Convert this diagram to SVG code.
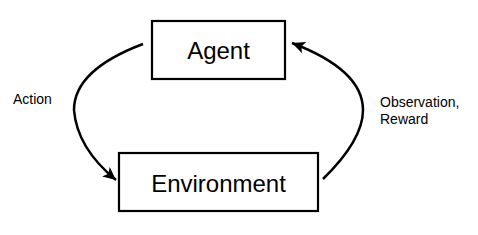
<svg xmlns="http://www.w3.org/2000/svg" width="478" height="235" viewBox="0 0 478 235">
<style>
.box{fill:#fff;stroke:#000;stroke-width:2.2}
.big{font-family:"Liberation Sans",Arial,sans-serif;font-size:24px;fill:#000;text-anchor:middle}
.lbl{font-family:"Liberation Sans",Arial,sans-serif;font-size:14px;fill:#000}
.edge{fill:none;stroke:#000;stroke-width:2.5}
</style>
<defs>
<marker id="arr" markerUnits="userSpaceOnUse" markerWidth="14" markerHeight="12" refX="13" refY="6" orient="auto" viewBox="0 0 14 12">
<path d="M0,0 L13,6 L0,12 L3,6 z" fill="#000"/>
</marker>
</defs>
<rect width="478" height="235" fill="#fff"/>
<g id="agent">
<rect class="box" x="152" y="21" width="133" height="58"/>
<text class="big" x="218.5" y="59">Agent</text>
</g>
<g id="environment">
<rect class="box" x="119" y="153" width="199" height="58"/>
<text class="big" x="218.5" y="191.5">Environment</text>
</g>
<g id="connectors">
<path class="edge" d="M143,44 Q74,70 74,110 Q77,148 116,180" marker-end="url(#arr)"/>
<path class="edge" d="M323,179 Q363,140 363,110 Q363,70 292,43" marker-end="url(#arr)"/>
</g>
<g id="labels">
<text class="lbl" x="13" y="104">Action</text>
<text class="lbl" x="380" y="107">Observation,</text>
<text class="lbl" x="380" y="124">Reward</text>
</g>
</svg>
